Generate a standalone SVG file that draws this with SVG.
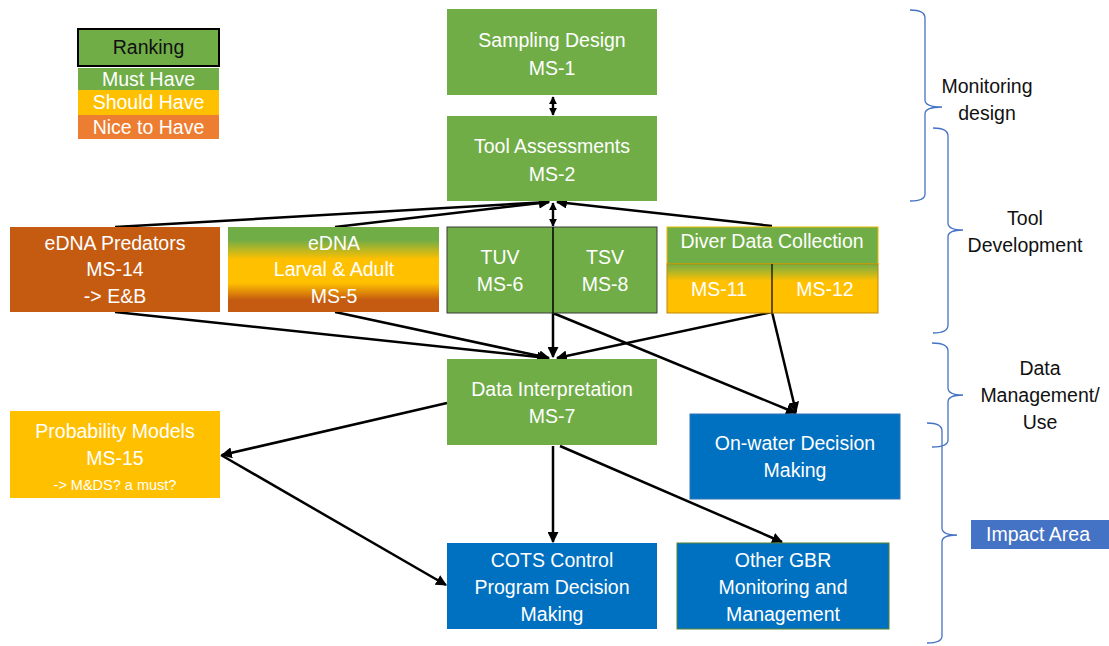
<svg xmlns="http://www.w3.org/2000/svg" width="1109" height="646" viewBox="0 0 1109 646">
  <style>
    .lbl { font-family: "Liberation Sans", Arial, sans-serif; font-size: 19.5px; fill: #ffffff; text-anchor: middle; }
    .small { font-size: 14.5px; }
    .side { font-family: "Liberation Sans", Arial, sans-serif; font-size: 19.5px; fill: #111111; text-anchor: middle; }
    .green { fill: #70AD47; }
    .yellow { fill: #FFC000; }
    .blue { fill: #0070C0; }
    .rust { fill: #C55A11; }
    .edge { stroke: #000000; stroke-width: 2.5; fill: none; marker-end: url(#arr); }
    .short { stroke: #000000; stroke-width: 2.4; fill: none; marker-end: url(#arrS); marker-start: url(#arrS); }
    .brace { stroke: #4472C4; stroke-width: 1.3; fill: none; }
  </style>
  <defs>
    <marker id="arr" viewBox="0 0 10 10" refX="9" refY="5" markerWidth="4.4" markerHeight="4.4" orient="auto-start-reverse" markerUnits="strokeWidth">
      <path d="M0,0 L10,5 L0,10 z" fill="#000000"/>
    </marker>
    <marker id="arrS" viewBox="0 0 10 10" refX="9" refY="5" markerWidth="3.4" markerHeight="5" orient="auto-start-reverse" markerUnits="strokeWidth">
      <path d="M0,0 L10,5 L0,10 z" fill="#000000"/>
    </marker>
    <linearGradient id="mixed" x1="0" y1="0" x2="0" y2="1">
      <stop offset="0" stop-color="#70AD47"/>
      <stop offset="0.15" stop-color="#70AD47"/>
      <stop offset="0.38" stop-color="#FFC000"/>
      <stop offset="0.66" stop-color="#FFC000"/>
      <stop offset="0.86" stop-color="#C55A11"/>
      <stop offset="1" stop-color="#C55A11"/>
    </linearGradient>
    <linearGradient id="diverLow" x1="0" y1="0" x2="0" y2="1">
      <stop offset="0" stop-color="#70AD47"/>
      <stop offset="0.35" stop-color="#FFC000"/>
      <stop offset="1" stop-color="#FFC000"/>
    </linearGradient>
  </defs>

  <rect width="1109" height="646" fill="#ffffff"/>

  <!-- ranking legend -->
  <g id="legend">
    <rect x="78" y="29" width="141" height="37" class="green" stroke="#000000" stroke-width="2"/>
    <text x="148.5" y="54" class="side">Ranking</text>
    <rect x="78" y="68" width="141" height="22" class="green"/>
    <text x="148.5" y="86" class="lbl">Must Have</text>
    <rect x="78" y="90" width="141" height="25" class="yellow"/>
    <text x="148.5" y="109" class="lbl">Should Have</text>
    <rect x="78" y="115" width="141" height="24" fill="#ED7D31"/>
    <text x="148.5" y="134" class="lbl">Nice to Have</text>
  </g>

  <!-- connectors -->
  <g id="connectors">
    <line x1="553" y1="97" x2="553" y2="115" class="short"/>
    <line x1="553" y1="226" x2="553" y2="203" class="short"/>
    <line x1="115" y1="227" x2="549" y2="202" class="edge"/>
    <line x1="335" y1="227" x2="549" y2="202" class="edge"/>
    <line x1="772" y1="226" x2="557" y2="202" class="edge"/>
    <line x1="115" y1="312" x2="547" y2="358" class="edge"/>
    <line x1="335" y1="312" x2="549" y2="358" class="edge"/>
    <line x1="553" y1="313" x2="553" y2="357" class="edge"/>
    <line x1="772" y1="312" x2="557" y2="358" class="edge"/>
    <line x1="553" y1="313" x2="796" y2="413" class="edge"/>
    <line x1="772" y1="312" x2="796" y2="412" class="edge"/>
    <line x1="447" y1="403" x2="222" y2="455" class="edge"/>
    <line x1="221" y1="455" x2="446" y2="585" class="edge"/>
    <line x1="553" y1="446" x2="553" y2="542" class="edge"/>
    <line x1="560" y1="446" x2="782" y2="542" class="edge"/>
  </g>

  <g id="ms1">
    <rect x="447" y="9" width="210" height="86" class="green"/>
    <text x="552" y="47" class="lbl">Sampling Design</text>
    <text x="552" y="75" class="lbl">MS-1</text>
  </g>

  <g id="ms2">
    <rect x="447" y="116" width="210" height="85" class="green"/>
    <text x="552" y="153" class="lbl">Tool Assessments</text>
    <text x="552" y="181" class="lbl">MS-2</text>
  </g>

  <g id="ms14">
    <rect x="10" y="227" width="210" height="85" class="rust"/>
    <text x="115" y="250" class="lbl">eDNA Predators</text>
    <text x="115" y="276" class="lbl">MS-14</text>
    <text x="115" y="303" class="lbl">-&gt; E&amp;B</text>
  </g>

  <g id="ms5">
    <rect x="228" y="227" width="211" height="85" fill="url(#mixed)"/>
    <text x="334" y="250" class="lbl">eDNA</text>
    <text x="334" y="276" class="lbl">Larval &amp; Adult</text>
    <text x="334" y="303" class="lbl">MS-5</text>
  </g>

  <g id="ms6-ms8">
    <rect x="447" y="227" width="210" height="86" class="green" stroke="#3a3a3a" stroke-width="1"/>
    <line x1="553" y1="227" x2="553" y2="313" stroke="#000000" stroke-width="1.5"/>
    <text x="500" y="264" class="lbl">TUV</text>
    <text x="500" y="291" class="lbl">MS-6</text>
    <text x="605" y="264" class="lbl">TSV</text>
    <text x="605" y="291" class="lbl">MS-8</text>
  </g>

  <g id="ms11-ms12">
    <rect x="667" y="227" width="211" height="37" class="green" stroke="#E8B800" stroke-width="1"/>
    <text x="772" y="248" class="lbl">Diver Data Collection</text>
    <rect x="667" y="264" width="211" height="49" fill="url(#diverLow)" stroke="#C08A00" stroke-width="1"/>
    <line x1="772" y1="264" x2="772" y2="313" stroke="#000000" stroke-width="1.2"/>
    <text x="719" y="296" class="lbl">MS-11</text>
    <text x="825" y="296" class="lbl">MS-12</text>
  </g>

  <g id="ms7">
    <rect x="447" y="359" width="210" height="86" class="green"/>
    <text x="552" y="396" class="lbl">Data Interpretation</text>
    <text x="552" y="423" class="lbl">MS-7</text>
  </g>

  <g id="ms15">
    <rect x="10" y="411" width="210" height="87" class="yellow"/>
    <text x="115" y="438" class="lbl">Probability Models</text>
    <text x="115" y="465" class="lbl">MS-15</text>
    <text x="115" y="490" class="lbl small">-&gt; M&amp;DS? a must?</text>
  </g>

  <g id="onwater">
    <rect x="690" y="414" width="210" height="85" class="blue" stroke="#2E75B6" stroke-width="1"/>
    <text x="795" y="450" class="lbl">On-water Decision</text>
    <text x="795" y="477" class="lbl">Making</text>
  </g>

  <g id="cots">
    <rect x="447" y="543" width="210" height="86" class="blue"/>
    <text x="552" y="567" class="lbl">COTS Control</text>
    <text x="552" y="594" class="lbl">Program Decision</text>
    <text x="552" y="621" class="lbl">Making</text>
  </g>

  <g id="gbr">
    <rect x="677" y="543" width="212" height="86" class="blue" stroke="#548235" stroke-width="1"/>
    <text x="783" y="567" class="lbl">Other GBR</text>
    <text x="783" y="594" class="lbl">Monitoring and</text>
    <text x="783" y="621" class="lbl">Management</text>
  </g>

  <!-- phase braces and labels -->
  <g id="phase-monitoring">
    <path class="brace" d="M910,10 Q925,10 925,18 L925,100 Q925,107 942,107 Q925,107 925,114 L925,194 Q925,201 910,201"/>
    <text x="987" y="93" class="side">Monitoring</text>
    <text x="987" y="120" class="side">design</text>
  </g>

  <g id="phase-tools">
    <path class="brace" d="M933,128 Q948,128 948,136 L948,223 Q948,230 963,230 Q948,230 948,237 L948,325 Q948,333 933,333"/>
    <text x="1025" y="225" class="side">Tool</text>
    <text x="1025" y="252" class="side">Development</text>
  </g>

  <g id="phase-data">
    <path class="brace" d="M932,343 Q948,343 948,351 L948,388 Q948,395 963,395 Q948,395 948,402 L948,440 Q948,447 932,447"/>
    <text x="1040" y="375" class="side">Data</text>
    <text x="1040" y="402" class="side">Management/</text>
    <text x="1040" y="429" class="side">Use</text>
  </g>

  <g id="phase-impact">
    <path class="brace" d="M927,423 Q942,423 942,431 L942,528 Q942,535 957,535 Q942,535 942,542 L942,636 Q942,643 927,643"/>
    <rect x="971" y="520" width="138" height="29" fill="#4472C4"/>
    <text x="1038" y="541" class="lbl">Impact Area</text>
  </g>
</svg>
